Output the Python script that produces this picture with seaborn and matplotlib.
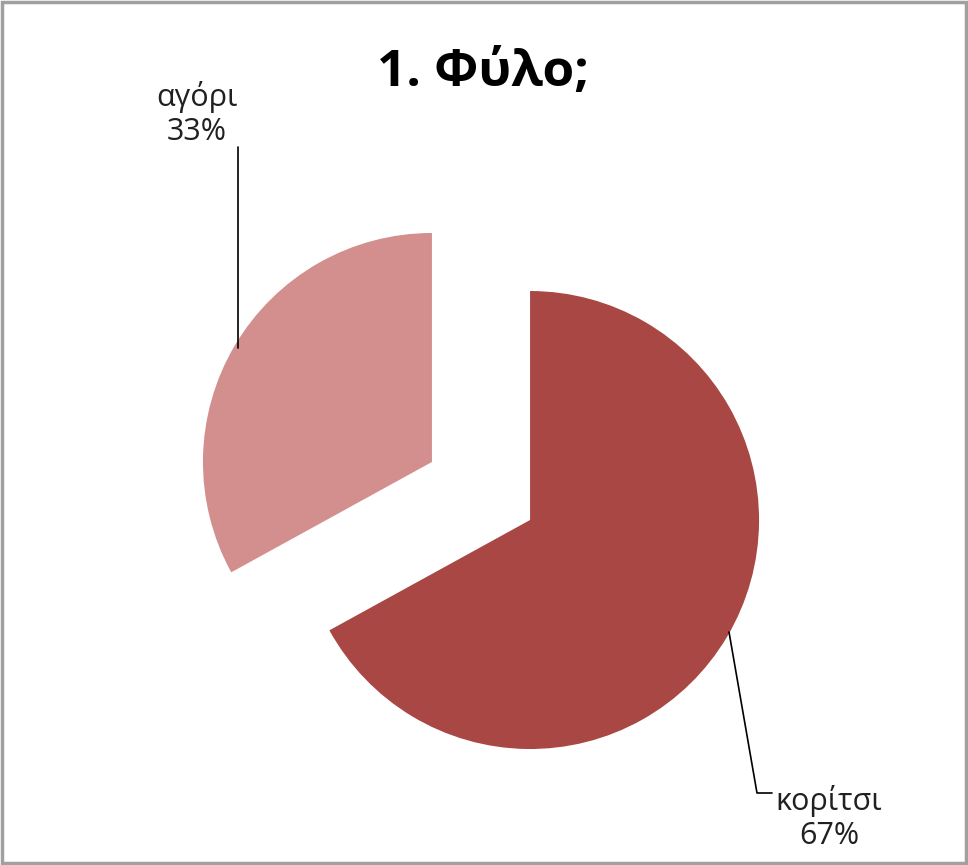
import matplotlib

matplotlib.use("Agg")
import matplotlib.pyplot as plt
import seaborn as sns
from matplotlib.patches import Rectangle

# data
labels = ["κορίτσι", "αγόρι"]
shares = [67, 33]
slice_colors = ["#A84744", "#D38F8D"]
title = "1. Φύλο;"

W, H = 968, 865

sns.set_theme(style="white")
plt.rcParams["font.family"] = ["Open Sans", "DejaVu Sans"]

fig = plt.figure(figsize=(W / 100, H / 100), dpi=100)
ax = fig.add_axes([0, 0, 1, 1])

ax.pie(
    shares,
    colors=slice_colors,
    startangle=90,
    counterclock=False,
    radius=229,
    center=(481, H - 491),
    explode=[57, 57],
    wedgeprops=dict(linewidth=0),
    frame=True,
)
ax.set_xlim(0, W)
ax.set_ylim(0, H)
ax.set_aspect("equal")
ax.axis("off")

# title
ax.text(483, H - 73, title, ha="center", va="center", fontsize=37, fontweight="bold",
        color="black")

# data labels with leader lines
ax.text(197, H - 114, f"{labels[1]}\n{shares[1]}%", ha="center", va="center",
        fontsize=22, color="#202020", linespacing=1.2)
ax.plot([238, 238], [H - 147, H - 348], color="black", lw=1.2)

ax.text(829, H - 818, f"{labels[0]}\n{shares[0]}%", ha="center", va="center",
        fontsize=22, color="#202020", linespacing=1.2)
ax.plot([729, 757, 772], [H - 632, H - 793, H - 793], color="black", lw=1.2)

# chart border
fig.patches.append(Rectangle((0.002, 0.002), 0.996, 0.996, transform=fig.transFigure,
                             fill=False, edgecolor="#A0A0A0", linewidth=2.5))

fig.savefig("out.png", dpi=100)
